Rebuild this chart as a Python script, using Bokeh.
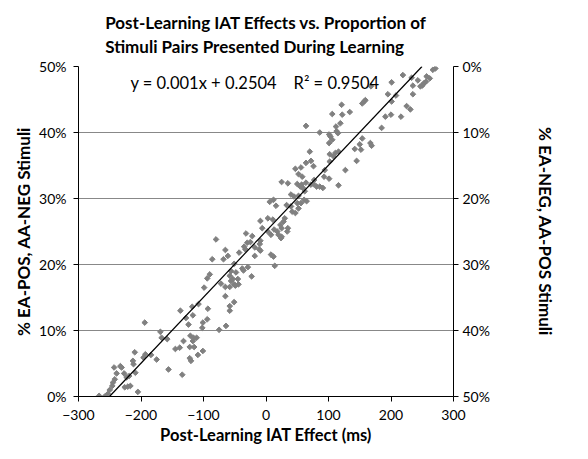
from bokeh.plotting import figure
from bokeh.models import Range1d, LinearAxis, NumeralTickFormatter, FixedTicker, Slope, Label, ColumnDataSource
from bokeh.embed import file_html
from bokeh.resources import INLINE
import numpy as np

# Post-learning IAT effect (ms)
iat_effect = [
    -267, -258, -253, -250, -246, -245, -242, -243, -239, -233, -231, -227, -226, -223, -221, -217,
    -219, -213, -212, -209, -210, -205, -196, -193, -194, -184, -175, -169, -167, -158, -156, -145,
    -138, -137, -134, -132, -128, -124, -122, -122, -120, -121, -117, -116, -115, -118, -117, -111,
    -109, -108, -101, -102, -101, -94, -93, -99, -94, -90, -86, -80, -75, -64, -72, -65, -65, -58,
    -58, -58, -51, -56, -56, -58, -53, -51, -48, -51, -49, -45, -44, -38, -36, -29, -23, -65, -68,
    -61, -43, -35, -33, -30, -25, -22, -32, -18, -18, -11, -10, -9, -9, 14, -9, -6,
    219, 233, 243, 235, 247, 256, 262, 267, 271, 257, 250, 253, 201, 168, 157, 159, 154, 195, 201,
    208, 235, 225, 231, 216, 200, 191, 185, 167, 169, 154, 150, 152, 142, 145, 134, 122, 121, 119,
    106, 112, 113, 101, 103, 86, 115, 64, 101, 106, 111, 116, 102, 108, 102, 70, 64, 72, 76, 56, 47,
    52, 58, 127, 116, 94, 93, 101, 91, 86, 81, 77, 72, 76, 64, 57, 55, 50, 45, 52, 59, 62, 65, 61,
    40, 35, 25, 33, 40, 42, 47, 52, 50, 56, 30, 28, 23, 25, 18, 13, 8, 3, 34, 35, 25, 20, 24, 8, 12,
    6, 12, 16, 11, 3,
]
# Proportion of EA-POS, AA-NEG stimuli
prop_pos = [
    0.001, 0.000, 0.004, 0.010, 0.016, 0.021, 0.026, 0.044, 0.035, 0.046, 0.044, 0.035, 0.014, 0.029,
    0.015, 0.016, 0.031, 0.054, 0.049, 0.036, 0.067, 0.007, 0.059, 0.064, 0.112, 0.063, 0.056, 0.098,
    0.089, 0.087, 0.041, 0.072, 0.074, 0.130, 0.033, 0.084, 0.119, 0.109, 0.075, 0.058, 0.054, 0.092,
    0.084, 0.089, 0.075, 0.136, 0.123, 0.089, 0.063, 0.140, 0.069, 0.104, 0.112, 0.117, 0.133, 0.165,
    0.179, 0.185, 0.208, 0.238, 0.101, 0.107, 0.171, 0.166, 0.152, 0.166, 0.137, 0.130, 0.143, 0.175,
    0.190, 0.183, 0.178, 0.201, 0.188, 0.170, 0.168, 0.178, 0.170, 0.194, 0.191, 0.196, 0.182, 0.222,
    0.208, 0.213, 0.218, 0.227, 0.223, 0.233, 0.234, 0.243, 0.247, 0.226, 0.213, 0.223, 0.231, 0.236,
    0.221, 0.198, 0.266, 0.255,
    0.487, 0.483, 0.479, 0.471, 0.470, 0.477, 0.482, 0.495, 0.497, 0.485, 0.471, 0.475, 0.476, 0.470,
    0.447, 0.449, 0.444, 0.458, 0.447, 0.456, 0.458, 0.440, 0.435, 0.424, 0.427, 0.424, 0.407, 0.384,
    0.380, 0.391, 0.382, 0.374, 0.375, 0.357, 0.431, 0.427, 0.442, 0.414, 0.428, 0.409, 0.402, 0.397,
    0.394, 0.400, 0.399, 0.410, 0.384, 0.389, 0.369, 0.371, 0.367, 0.364, 0.356, 0.371, 0.354, 0.357,
    0.349, 0.347, 0.345, 0.337, 0.333, 0.343, 0.320, 0.343, 0.333, 0.330, 0.316, 0.318, 0.318, 0.328,
    0.321, 0.322, 0.324, 0.321, 0.318, 0.322, 0.303, 0.304, 0.316, 0.311, 0.296, 0.298, 0.306, 0.323,
    0.325, 0.290, 0.288, 0.280, 0.278, 0.285, 0.293, 0.293, 0.270, 0.265, 0.260, 0.255, 0.250, 0.253,
    0.245, 0.250, 0.250, 0.255, 0.242, 0.245, 0.240, 0.215, 0.212, 0.295, 0.298, 0.289, 0.268, 0.270,
]
slope = 0.001
intercept = 0.2504
r_squared = 0.9504
x_ticks = [-300, -200, -100, 0, 100, 200, 300]
y_ticks = [0.0, 0.1, 0.2, 0.3, 0.4, 0.5]
title_lines = ["Post-Learning IAT Effects vs. Proportion of", "Stimuli Pairs Presented During Learning"]

FONT = "Lato"

p = figure(width=572, height=452, x_range=Range1d(-300, 300), y_range=Range1d(0, 0.5),
           title="\n".join(title_lines),
           output_backend="svg", toolbar_location=None,
           min_border_left=78, min_border_right=119, min_border_top=66, min_border_bottom=56)
p.outline_line_color = None
p.background_fill_color = "white"

p.title.align = "center"
p.title.text_font = FONT
p.title.text_font_size = "17px"
p.title.text_font_style = "bold"
p.title.text_color = "black"
p.title.text_line_height = 1.15
p.title.standoff = 18

p.xgrid.visible = False
p.ygrid.ticker = FixedTicker(ticks=y_ticks)
p.ygrid.grid_line_color = "#888888"
p.ygrid.grid_line_width = 1

def style_axis(ax, title_size):
    ax.axis_line_color = "black"
    ax.major_tick_line_color = "black"
    ax.major_tick_in = 0
    ax.major_tick_out = 5
    ax.minor_tick_line_color = None
    ax.major_label_text_font = FONT
    ax.major_label_text_font_size = "14px"
    ax.major_label_text_color = "black"
    ax.axis_label_text_font = FONT
    ax.axis_label_text_font_size = title_size
    ax.axis_label_text_font_style = "bold"
    ax.axis_label_text_color = "black"

xa = p.xaxis[0]
xa.ticker = FixedTicker(ticks=x_ticks)
xa.axis_label = "Post-Learning IAT Effect (ms)"
style_axis(xa, "16.5px")
xa.major_label_standoff = 8
xa.axis_label_standoff = 2

ya = p.yaxis[0]
ya.ticker = FixedTicker(ticks=y_ticks)
ya.formatter = NumeralTickFormatter(format="0%")
ya.axis_label = "% EA-POS, AA-NEG Stimuli"
style_axis(ya, "17px")
ya.major_label_standoff = 7
ya.axis_label_standoff = 2

p.extra_y_ranges = {"inv": Range1d(0.5, 0)}
ra = LinearAxis(y_range_name="inv", ticker=FixedTicker(ticks=y_ticks),
                formatter=NumeralTickFormatter(format="0%"), axis_label="% EA-NEG, AA-POS Stimuli")
style_axis(ra, "17px")
ra.major_label_standoff = 4
ra.axis_label_standoff = 42
p.add_layout(ra, "right")

src = ColumnDataSource(data=dict(x=iat_effect, y=prop_pos))
p.scatter("x", "y", source=src, marker="square", angle=np.pi / 4, size=4,
          fill_color="#808080", line_color="#808080")

p.add_layout(Slope(gradient=slope, y_intercept=intercept, line_color="black", line_width=1.2))

gap = "\u00a0" * 4
eq = f"y = {slope:.3f}x + {intercept:.4f}{gap}R\u00b2 = {r_squared:.4f}"
p.add_layout(Label(x=-217, y=0.475, text=eq, text_font=FONT, text_font_size="16.5px",
                   text_baseline="middle", text_color="black"))

open("out.html", "w").write(file_html(p, INLINE))
